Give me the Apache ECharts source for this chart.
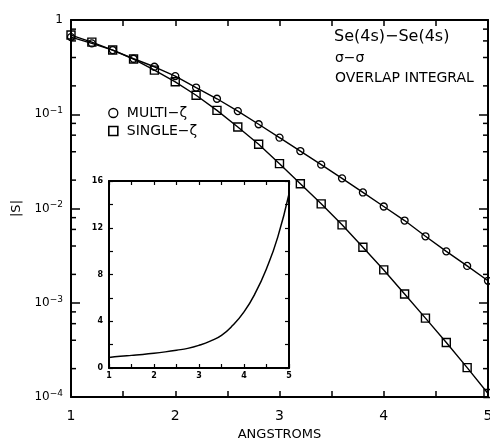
<!DOCTYPE html>
<html>
<head>
<meta charset="utf-8">
<script src="https://cdn.jsdelivr.net/npm/echarts@6/dist/echarts.min.js"></script>
<style>
html,body{margin:0;padding:0;background:#fff;}
#chart{width:490px;height:438px;}
</style>
</head>
<body>
<div id="chart"></div>
<script>
// ---- data ----
const distances = [1.0,1.2,1.4,1.6,1.8,2.0,2.2,2.4,2.6,2.8,3.0,3.2,3.4,3.6,3.8,4.0,4.2,4.4,4.6,4.8,5.0];
const multiZeta = [0.659,0.565,0.480,0.388,0.319,0.254,0.192,0.146,0.108,0.0783,0.0565,0.0407,0.0292,0.0209,0.0148,0.0105,0.00745,0.00507,0.00351,0.00246,0.00171];
const singleZeta = [0.692,0.583,0.480,0.385,0.294,0.221,0.159,0.110,0.0733,0.0480,0.0299,0.0183,0.0112,0.00671,0.00388,0.00223,0.00124,0.000687,0.000379,0.000205,0.000109];
const insetX = [1.0,1.25,1.5,1.75,2.0,2.25,2.5,2.75,3.0,3.25,3.5,3.75,4.0,4.25,4.5,4.75,5.0];
const insetRatio = [0.9,1.0,1.08,1.16,1.26,1.38,1.52,1.68,1.94,2.3,2.8,3.65,4.8,6.4,8.5,11.2,14.9];
const minorLogTicks = [0.0002,0.0004,0.0006,0.0008,0.002,0.004,0.006,0.008,0.02,0.04,0.06,0.08,0.2,0.4,0.6,0.8];
const seriesNames = ['MULTI\u2212\u03b6','SINGLE\u2212\u03b6'];
const titleLines = ['Se(4s)\u2212Se(4s)','\u03c3\u2212\u03c3','OVERLAP INTEGRAL'];

const FONT = 'DejaVu Sans';
const chart = echarts.init(document.getElementById('chart'), null, {renderer:'canvas'});

const pair = (xs, ys) => xs.map((x, i) => [x, ys[i]]);
const supMap = {'1':'\u22121','2':'\u22122','3':'\u22123','4':'\u22124'};

const axisLine = {show:true, onZero:false, lineStyle:{color:'#000', width:2}};
const option = {
  backgroundColor:'#fff',
  animation:false,
  textStyle:{fontFamily:FONT, color:'#000'},
  grid:[
    {left:71, top:20, right:2, bottom:41, show:false, containLabel:false, outerBoundsMode:'none'},
    {left:109, top:181, right:201, bottom:70, show:true, backgroundColor:'#fff', borderWidth:0, z:5, containLabel:false, outerBoundsMode:'none'}
  ],
  legend:{
    orient:'vertical', left:103, top:101, itemWidth:9, itemHeight:9, itemGap:4,
    textStyle:{fontFamily:FONT, fontSize:14, color:'#000', padding:[0,0,0,4]},
    data:[
      {name:seriesNames[0], icon:'circle', itemStyle:{color:'#fff', borderColor:'#000', borderWidth:1.3}},
      {name:seriesNames[1], icon:'rect', itemStyle:{color:'#fff', borderColor:'#000', borderWidth:1.6}}
    ]
  },
  xAxis:[
    {type:'value', gridIndex:0, min:1, max:5, interval:1, position:'bottom',
     axisLine:axisLine, axisTick:{inside:true, length:6, lineStyle:{width:1.5,color:'#000'}},
     minorTick:{show:true, splitNumber:2, length:6, lineStyle:{width:1.5,color:'#000'}},
     splitLine:{show:false},
     axisLabel:{fontFamily:FONT, fontSize:14, color:'#000', margin:12},
     name:'ANGSTROMS', nameLocation:'middle', nameGap:27,
     nameTextStyle:{fontFamily:FONT, fontSize:13, color:'#000'}},
    {type:'value', gridIndex:0, min:1, max:5, interval:1, position:'top',
     axisLine:axisLine, axisTick:{inside:true, length:6, lineStyle:{width:1.5,color:'#000'}},
     minorTick:{show:true, splitNumber:2, length:6, lineStyle:{width:1.5,color:'#000'}},
     splitLine:{show:false}, axisLabel:{show:false}},
    {type:'value', gridIndex:1, min:1, max:5, interval:1, position:'bottom', z:6,
     axisLine:axisLine, axisTick:{inside:true, length:4, lineStyle:{width:1.2,color:'#000'}},
     minorTick:{show:true, splitNumber:2, length:4, lineStyle:{width:1.2,color:'#000'}},
     splitLine:{show:false},
     axisLabel:{fontFamily:FONT, fontSize:8, fontWeight:'bold', color:'#000', margin:4}},
    {type:'value', gridIndex:1, min:1, max:5, interval:1, position:'top', z:6,
     axisLine:axisLine, axisTick:{inside:true, length:4, lineStyle:{width:1.2,color:'#000'}},
     minorTick:{show:true, splitNumber:2, length:4, lineStyle:{width:1.2,color:'#000'}},
     splitLine:{show:false}, axisLabel:{show:false}}
  ],
  yAxis:[
    {type:'log', logBase:10, gridIndex:0, min:0.0001, max:1, position:'left',
     axisLine:axisLine, axisTick:{inside:true, length:9, lineStyle:{width:1.5,color:'#000'}},
     splitLine:{show:false},
     axisLabel:{margin:8, color:'#000', fontFamily:FONT, fontSize:12,
       formatter:function(v){
         if (Math.abs(v-1) < 1e-9) return '1';
         const e = String(-Math.round(Math.log10(v)));
         return '10{s|' + supMap[e] + '}';
       },
       rich:{s:{fontFamily:FONT, fontSize:9, color:'#000', padding:[0,0,7,0]}}},
     name:'|S|', nameLocation:'middle', nameGap:44, nameRotate:90,
     nameTextStyle:{fontFamily:FONT, fontSize:13, color:'#000'}},
    {type:'log', logBase:10, gridIndex:0, min:0.0001, max:1, position:'right',
     axisLine:axisLine, axisTick:{inside:true, length:9, lineStyle:{width:1.5,color:'#000'}},
     splitLine:{show:false}, axisLabel:{show:false}},
    {type:'value', gridIndex:1, min:0, max:16, interval:4, position:'left', z:6,
     axisLine:axisLine, axisTick:{inside:true, length:4, lineStyle:{width:1.2,color:'#000'}},
     minorTick:{show:true, splitNumber:2, length:4, lineStyle:{width:1.2,color:'#000'}},
     splitLine:{show:false},
     axisLabel:{fontFamily:FONT, fontSize:8, fontWeight:'bold', color:'#000', margin:6}},
    {type:'value', gridIndex:1, min:0, max:16, interval:4, position:'right', z:6,
     axisLine:axisLine, axisTick:{inside:true, length:4, lineStyle:{width:1.2,color:'#000'}},
     minorTick:{show:true, splitNumber:2, length:4, lineStyle:{width:1.2,color:'#000'}},
     splitLine:{show:false}, axisLabel:{show:false}}
  ],
  graphic:[
    {type:'text', left:334, top:29, z:20, style:{text:titleLines[0], font:'16px "DejaVu Sans"', fill:'#000'}},
    {type:'text', left:335, top:51, z:20, style:{text:titleLines[1], font:'14px "DejaVu Sans"', fill:'#000'}},
    {type:'text', left:335, top:71, z:20, style:{text:titleLines[2], font:'14px "DejaVu Sans"', fill:'#000'}}
  ],
  series:[
    {name:seriesNames[0], type:'line', xAxisIndex:0, yAxisIndex:0, data:pair(distances, multiZeta),
     symbol:'circle', symbolSize:7, showAllSymbol:true,
     lineStyle:{color:'#000', width:1.4},
     itemStyle:{color:'rgba(255,255,255,0)', borderColor:'#000', borderWidth:1.3}, z:3},
    {name:seriesNames[1], type:'line', xAxisIndex:0, yAxisIndex:0, data:pair(distances, singleZeta),
     symbol:'rect', symbolSize:8, showAllSymbol:true,
     lineStyle:{color:'#000', width:1.4},
     itemStyle:{color:'rgba(255,255,255,0)', borderColor:'#000', borderWidth:1.4}, z:3},
    {name:'minorTicks', type:'custom', xAxisIndex:0, yAxisIndex:0, silent:true, clip:false,
     data:minorLogTicks.map(v => [1, v]),
     renderItem:function(params, api){
       const p = api.coord([1, api.value(1)]);
       const cs = params.coordSys;
       const st = {stroke:'#000', lineWidth:1.5};
       return {type:'group', children:[
         {type:'line', shape:{x1:cs.x, y1:p[1], x2:cs.x+5, y2:p[1]}, style:st},
         {type:'line', shape:{x1:cs.x+cs.width, y1:p[1], x2:cs.x+cs.width-5, y2:p[1]}, style:st}
       ]};
     }, z:3},
    {name:'ratio', type:'line', xAxisIndex:2, yAxisIndex:2, data:pair(insetX, insetRatio),
     smooth:true, symbol:'none', lineStyle:{color:'#000', width:1.5}, z:7}
  ]
};
chart.setOption(option);
</script>
</body>
</html>
